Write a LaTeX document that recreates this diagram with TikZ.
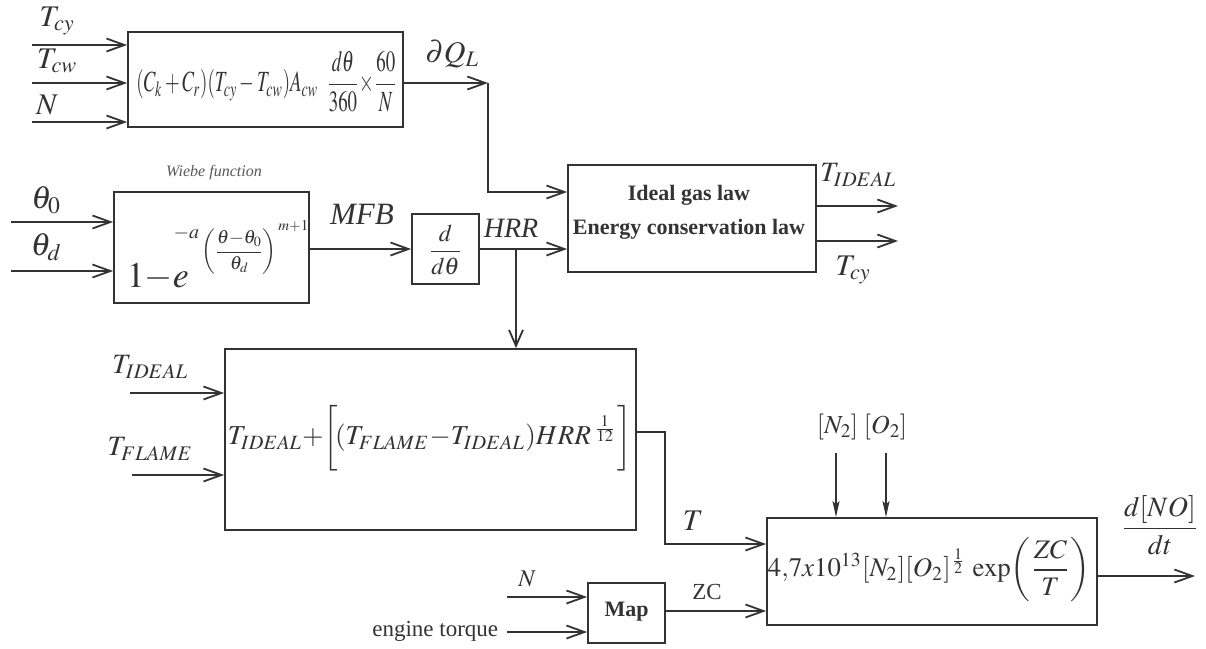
\documentclass[tikz,border=0pt]{standalone}
\usepackage{amsmath}
\usepackage{mathptmx}
\usepackage[no-math]{fontspec}
\setmainfont{Liberation Serif}
\usepackage{graphicx}
\usetikzlibrary{arrows.meta}
\begin{document}
\begin{tikzpicture}[x=1pt,y=-1pt,color=black!80,line width=1.8pt,
  box/.style={draw,rectangle,inner sep=0pt},
  arr/.style={-{Straight Barb[length=18pt,width=13pt]}},
  varr/.style={-{Straight Barb[length=16pt,width=14pt]}},
  sarr/.style={line width=1.4pt,-{Stealth[length=16pt,width=7pt,inset=3pt]}},
  lab/.style={inner sep=0pt,font=\fontsize{30}{34}\selectfont},
  txt/.style={inner sep=0pt}]
\useasboundingbox (0,0) rectangle (1206,648);
\fill[white] (0,0) rectangle (1206,648);
% boxes
\node[box,minimum width=275pt,minimum height=95pt] (box1) at (265.5,79.5) {};
\node[box,minimum width=195pt,minimum height=111pt] (wiebe) at (211.5,247.5) {};
\node[box,minimum width=67pt,minimum height=70pt] (ddt) at (445.5,249) {};
\node[box,minimum width=248pt,minimum height=107pt] (ideal) at (692,218.5) {};
\node[box,minimum width=411pt,minimum height=181pt] (big) at (430.5,439.5) {};
\node[box,minimum width=77pt,minimum height=60pt] (map) at (626.5,613) {};
\node[box,minimum width=330pt,minimum height=107pt] (no) at (932,571.5) {};
% box contents
\node[txt] (f1) at (267,82) {\resizebox{261pt}{40pt}{$(C_k+C_r)(T_{cy}-T_{cw})A_{cw}\;\;\dfrac{d\theta}{360}{\times}\dfrac{60}{N}$}};
% Wiebe formula in pieces
\node[txt,anchor=base west,font=\fontsize{36}{40}\selectfont] (fw1) at (126,287) {$1{-}e$};
\node[txt,anchor=east,font=\fontsize{20}{23}\selectfont] (fw2) at (200,233) {$-a$};
\node[txt,anchor=west,font=\fontsize{19}{22}\selectfont] (fw3) at (201,252) {$\left(\dfrac{\theta{-}\theta_0}{\theta_d}\right)$};
\node[txt,anchor=west,font=\fontsize{15}{18}\selectfont] (fw4) at (fw3.east |- 0,226) {$m{+}1$};
\node[txt,font=\fontsize{24}{28}\selectfont] (fd) at (445.5,250) {$\dfrac{d}{d\theta}$};
\node[txt,font=\bfseries\fontsize{22}{26}\selectfont] (fi1) at (689,195) {Ideal gas law};
\node[txt,font=\bfseries\fontsize{22}{26}\selectfont] (fi2) at (689,229) {Energy conservation law};
\node[txt] (fb) at (430,438) {\resizebox{404pt}{!}{$T_{IDEAL}{+}\biggl[\!(T_{FLAME}{-}T_{IDEAL})HRR^{\,\frac{1}{12}}\biggr]$}};
\node[txt,font=\bfseries\fontsize{22}{26}\selectfont] (fm) at (626.5,612) {Map};
\node[txt] (fn) at (929,570) {\resizebox{322pt}{!}{$\mathrm{4{,}7}x10^{13}[N_2][O_2]^{\frac{1}{2}}\,\exp\!\left(\dfrac{ZC}{T}\right)$}};
% inputs box1
\coordinate (a1) at (32,45); \coordinate (a2) at (32,83); \coordinate (a3) at (32,122);
\draw[arr] (a1) -- (a1 -| box1.west);
\draw[arr] (a2) -- (a2 -| box1.west);
\draw[arr] (a3) -- (a3 -| box1.west);
\node[lab] (la1) at (57,21) {$T_{cy}$};
\node[lab] (la2) at (57,61) {$T_{cw}$};
\node[lab] (la3) at (47,105) {$N$};
% dQ_L
\coordinate (q1) at (488,83); \coordinate (q2) at (488,192);
\draw[arr] (q1 -| box1.east) -- (q1);
\draw[arr] (q1) -- (q2) -- (q2 -| ideal.west);
\node[lab] (lq) at (452,54) {$\partial Q_L$};
% Wiebe
\coordinate (w1) at (11,222); \coordinate (w2) at (11,271);
\draw[arr] (w1) -- (w1 -| wiebe.west);
\draw[arr] (w2) -- (w2 -| wiebe.west);
\node[lab,font=\fontsize{32}{36}\selectfont] (lw1) at (46,200) {$\theta_0$};
\node[lab,font=\fontsize{32}{36}\selectfont] (lw2) at (46,247) {$\theta_d$};
\node[txt,font=\itshape\fontsize{16}{18}\selectfont,text=black!65] (lwf) at (214,173) {Wiebe function};
\draw[arr] (wiebe.east |- ddt.west) -- (ddt.west);
\node[txt,font=\itshape\fontsize{31}{34}\selectfont] (lmfb) at (362,214) {MFB};
\draw[arr] (ddt.east) -- (ddt.east -| ideal.west);
\node[txt,font=\itshape\fontsize{28}{32}\selectfont] (lhrr) at (511,228) {HRR};
\coordinate (h1) at (516,249);
\draw[varr] (h1) -- (h1 |- big.north);
% ideal outputs
\coordinate (i1) at (898,206); \coordinate (i2) at (898,241);
\draw[arr] (i1 -| ideal.east) -- (i1);
\draw[arr] (i2 -| ideal.east) -- (i2);
\node[lab,font=\fontsize{28}{32}\selectfont] (li1) at (858,175) {$T_{IDEAL}$};
\node[lab] (li2) at (853,270) {$T_{cy}$};
% big box inputs
\coordinate (b1) at (130,393); \coordinate (b2) at (132,475);
\draw[arr] (b1) -- (b1 -| big.west);
\draw[arr] (b2) -- (b2 -| big.west);
\node[lab,font=\fontsize{28}{32}\selectfont] (lb1) at (150,367) {$T_{IDEAL}$};
\node[lab,font=\fontsize{28}{32}\selectfont] (lb2) at (150,449) {$T_{FLAME}$};
% T
\coordinate (t1) at (665,432); \coordinate (t2) at (665,544);
\draw[arr] (t1 -| big.east) -- (t1) -- (t2) -- (t2 -| no.west);
\node[lab] (lt) at (693,521) {$T$};
% N2 O2
\coordinate (n2) at (836,453); \coordinate (o2) at (886,453);
\draw[sarr] (n2) -- (n2 |- no.north);
\draw[sarr] (o2) -- (o2 |- no.north);
\node[lab,font=\fontsize{26}{30}\selectfont] (lno2) at (862,427) {$[N_2]\;[O_2]$};
% map
\coordinate (m1) at (507,597); \coordinate (m2) at (507,632);
\draw[arr] (m1) -- (m1 -| map.west);
\draw[arr] (m2) -- (m2 -| map.west);
\node[lab,font=\fontsize{24}{28}\selectfont] (lm1) at (527,579) {$N$};
\node[txt,font=\fontsize{23}{26}\selectfont,anchor=east] (lm2) at (499,631) {engine torque};
\coordinate (z1) at (700,611);
\draw[arr] (z1 -| map.east) -- (z1 -| no.west);
\node[txt,font=\fontsize{23}{26}\selectfont] (lzc) at (707,592) {ZC};
% output
\coordinate (e1) at (1195,576);
\draw[arr] (e1 -| no.east) -- (e1);
\node[lab,font=\fontsize{28}{32}\selectfont] (lout) at (1160,525) {$\dfrac{d[NO]}{dt}$};
\end{tikzpicture}
\end{document}
